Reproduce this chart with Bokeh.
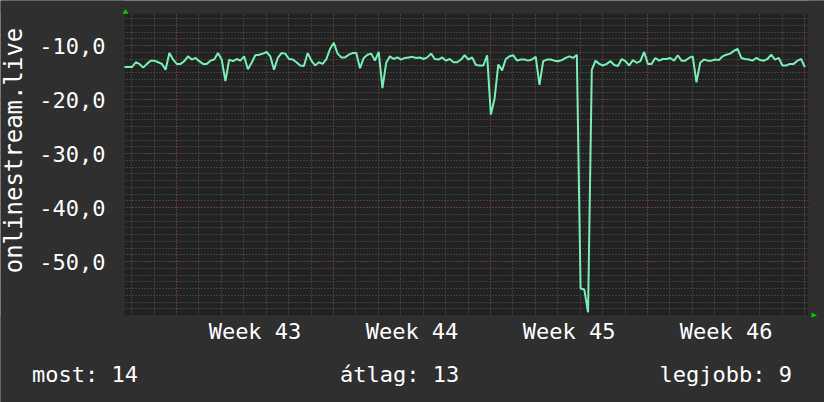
import numpy as np
from bokeh.plotting import figure
from bokeh.core.properties import value
from bokeh.models import (FixedTicker, Grid, BoxAnnotation, PolyAnnotation, Range1d)
from bokeh.embed import file_html
from bokeh.resources import INLINE

# ---- data (time in days relative to the start of week 43, 4-hour samples) ----
start_day = -2.318
step_day = 4 / 24
values = [
    -14.0, -14.0, -14.0, -13.1, -13.4, -14.1, -13.4, -12.8, -12.8, -13.1,
    -13.4, -14.5, -11.4, -12.6, -13.4, -13.4, -12.9, -12.0, -12.6, -12.3,
    -12.9, -13.4, -13.4, -12.8, -12.6, -11.4, -12.6, -16.6, -12.6, -12.9,
    -12.5, -12.8,
    -12.0, -14.4, -13.2, -11.8, -11.7, -11.5, -11.2, -12.0, -14.5, -12.3,
    -11.4, -11.5, -12.5, -12.6, -13.1, -13.7, -13.8, -11.4, -12.8, -13.7,
    -13.1, -13.4, -12.5, -10.6, -9.5, -11.5, -12.2, -12.2, -11.7, -11.4,
    -11.4, -14.2, -12.3, -11.7, -11.5, -12.8, -11.2, -17.9, -13.2, -12.0,
    -12.5, -12.2, -12.6, -12.3, -12.2, -12.1, -12.3, -12.2, -12.5, -12.2,
    -11.5, -12.5, -12.6, -12.2, -12.8, -12.5, -13.1, -13.1, -12.6, -11.8,
    -12.6,
    -12.2, -13.6, -13.7, -13.7, -11.8, -22.8, -19.8, -13.5, -14.6, -12.5,
    -12.0, -11.8, -12.8, -12.6, -12.6, -12.8, -12.6, -12.1, -17.3, -12.9,
    -12.6, -12.6, -12.8, -12.9, -12.7, -12.3, -12.0, -12.3, -11.7, -55.0,
    -55.2, -59.4,
    -14.5, -12.8, -13.4, -13.7, -13.4, -12.9, -13.6, -13.8, -12.5, -12.9,
    -13.7, -12.7, -13.2, -12.9, -11.2, -13.4, -13.4, -12.3, -12.8, -12.5,
    -12.5, -12.3, -12.8, -11.8, -12.8, -12.8, -12.3, -12.0, -16.8, -13.2,
    -12.6, -12.8, -12.8, -12.6, -12.7, -12.0, -11.7, -11.5, -11.0, -10.6,
    -12.3, -12.5, -12.6, -12.8, -12.3, -12.7, -12.8, -12.5, -11.7, -12.6,
    -12.3, -13.7, -13.7, -13.4, -13.4, -12.8, -12.5, -14.0,
]
week_label_days = [3.5, 10.5, 17.5, 24.5]
week_labels = ["Week 43", "Week 44", "Week 45", "Week 46"]
y_ticks = [-50, -40, -30, -20, -10]
y_tick_labels = ["-50,0", "-40,0", "-30,0", "-20,0", "-10,0"]
series_name = "onlinestream.live"
legend_texts = ["most: 14", "átlag: 13", "legjobb: 9"]

x = start_day + step_day * np.arange(len(values))

FONT = "DejaVu Sans Mono"
FS = "22px"
TXT = "#ffffff"
BG = "#2f2f2f"
PLOT_BG = "#222222"
W, H = 824, 402

# drawing area limits (data)
X0, X1 = -2.318, 28.177
Y0, Y1 = -60.0, -4.07

# layout helpers: page pixel -> data coordinate (drawing area spans px 124..808, 13..315)
PX_LEFT, PX_RIGHT, PY_TOP, PY_BOTTOM = 124, 808, 13, 315
def px2x(px):
    return X0 + (px - PX_LEFT) * (X1 - X0) / (PX_RIGHT - PX_LEFT)
def py2y(py):
    return Y1 - (py - PY_TOP) * (Y1 - Y0) / (PY_BOTTOM - PY_TOP)

p = figure(width=W, height=H, output_backend="svg", toolbar_location=None,
           x_range=Range1d(px2x(0), px2x(W)), y_range=Range1d(py2y(H), py2y(0)),
           x_axis_type=None, y_axis_type=None,
           min_border_left=0, min_border_right=0, min_border_top=0, min_border_bottom=0,
           background_fill_color=BG, border_fill_color=BG, outline_line_color=None)

p.add_layout(BoxAnnotation(left=X0, right=X1, bottom=Y0, top=Y1, fill_color=PLOT_BG,
                           fill_alpha=1, line_color=None, level="underlay"))

# grids
day_ticks = list(np.arange(-2, 29, 1.0))
week_ticks = [0, 7, 14, 21, 28]
minor_y = list(np.arange(-58.75, -4, 1.25))
major_y = [-50, -40, -30, -20, -10]
p.add_layout(Grid(dimension=0, ticker=FixedTicker(ticks=day_ticks),
                  grid_line_color="#5c5c5c", grid_line_dash="1 2"))
p.add_layout(Grid(dimension=1, ticker=FixedTicker(ticks=minor_y),
                  grid_line_color="#5c5c5c", grid_line_dash="1 2"))
p.add_layout(Grid(dimension=0, ticker=FixedTicker(ticks=week_ticks),
                  grid_line_color="#8a3535", grid_line_dash="1 2"))
p.add_layout(Grid(dimension=1, ticker=FixedTicker(ticks=major_y),
                  grid_line_color="#8a3535", grid_line_dash="1 2"))

# hide grid overhang outside the drawing area
for kw in (dict(bottom=Y1), dict(top=Y0), dict(left=X1), dict(right=X0)):
    p.add_layout(BoxAnnotation(fill_color=BG, fill_alpha=1, line_color=None,
                               level="underlay", **kw))

# tick labels
p.text(x=[px2x(105)] * len(y_ticks), y=y_ticks, text=y_tick_labels,
       text_align="right", text_baseline="middle",
       text_font=value(FONT), text_font_size=FS, text_color=TXT)
p.text(x=week_label_days, y=[py2y(331)] * len(week_labels), text=week_labels,
       text_align="center", text_baseline="middle",
       text_font=value(FONT), text_font_size=FS, text_color=TXT)

# vertical axis title
p.text(x=[px2x(13)], y=[py2y(150)], text=[series_name], angle=np.pi / 2,
       text_align="center", text_baseline="middle",
       text_font=value(FONT), text_font_size="24px", text_color=TXT)

# series
p.line(x, values, line_color="#78f0b4", line_width=2)

# legend row
p.text(x=[px2x(31.5), px2x(339.5)], y=[py2y(374)] * 2, text=legend_texts[:2],
       text_align="left", text_baseline="middle",
       text_font=value(FONT), text_font_size=FS, text_color=TXT)
p.text(x=[px2x(791.5)], y=[py2y(374)], text=legend_texts[2:],
       text_align="right", text_baseline="middle",
       text_font=value(FONT), text_font_size=FS, text_color=TXT)

# axis arrows
p.add_layout(PolyAnnotation(xs=[px2x(125), px2x(122), px2x(128)],
                            ys=[py2y(8.5), py2y(13.3), py2y(13.3)],
                            fill_color="#00cc00", fill_alpha=1, line_color=None))
p.add_layout(PolyAnnotation(xs=[px2x(816.5), px2x(811), px2x(811)],
                            ys=[py2y(314.7), py2y(312.2), py2y(317.2)],
                            fill_color="#00cc00", fill_alpha=1, line_color=None))

open("out.html", "w").write(file_html(p, INLINE))
